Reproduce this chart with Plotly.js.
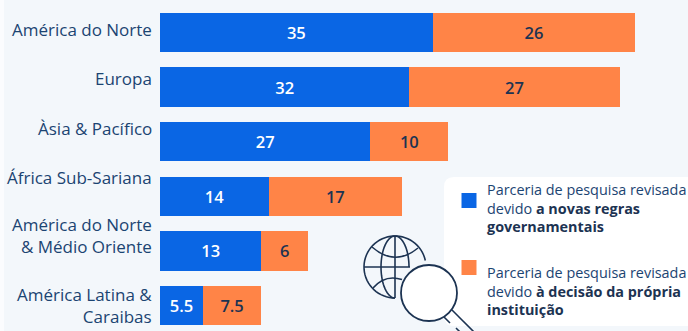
<!DOCTYPE html>
<html>
<head>
<meta charset="utf-8">
<script src="https://cdn.plot.ly/plotly-3.0.1.min.js"></script>
<style>html,body{margin:0;padding:0;background:#f3f7fb}#chart{width:688px;height:331px}</style>
</head>
<body>
<div id="chart"></div>
<script>
// Research partnerships revised, by region and by reason
const regions = ["América do Norte", "Europa", "Àsia & Pacífico", "África Sub-Sariana", "América do Norte<br>& Médio Oriente", "América Latina &<br>Caraibas"];
const governmentRules = [35, 32, 27, 14, 13, 5.5];
const ownDecision = [26, 27, 10, 17, 6, 7.5];
const labelLift = [3, 9, 13, 19, 15, 0];

const W = 688, H = 331, LEFT = 160;
const BG = "#f3f7fb", BLUE = "#0a66e4", ORANGE = "#ff8447", NAVY = "#1b4472", INK = "#1c3352";
const FONT = "Open Sans";

// Page-pixel helpers for the decoration drawn on top of the chart
const px = x => (x - LEFT) / (W - LEFT);
const py = y => 1 - y / H;
const page = extra => Object.assign({xref: "paper", yref: "paper", layer: "above"}, extra);
const stroke = {color: INK, width: 1.6};

const panelPath = () => {
  const x0 = 444, x1 = 700, y0 = 177, y1 = 326, r = 10;
  return `M${px(x0 + r)},${py(y0)} L${px(x1)},${py(y0)} L${px(x1)},${py(y1)} L${px(x0 + r)},${py(y1)} ` +
    `Q${px(x0)},${py(y1)} ${px(x0)},${py(y1 - r)} L${px(x0)},${py(y0 + r)} Q${px(x0)},${py(y0)} ${px(x0 + r)},${py(y0)} Z`;
};
const circle = (cx, cy, r, line, fill) => page({
  type: "circle", x0: px(cx - r), x1: px(cx + r), y0: py(cy + r), y1: py(cy - r),
  line, fillcolor: fill
});
const seg = (x0, y0, x1, y1, w) => page({
  type: "line", x0: px(x0), x1: px(x1), y0: py(y0), y1: py(y1),
  line: {color: INK, width: w || 1.6}
});
const curve = (x0, y0, cx, cy, x1, y1) => page({
  type: "path", path: `M${px(x0)},${py(y0)} Q${px(cx)},${py(cy)} ${px(x1)},${py(y1)}`, line: stroke
});
// Elliptical arc as a polyline; angles in degrees, 0 = east, 90 = north
const arc = (cx, cy, rx, ry, from, to) => {
  const pts = [];
  const steps = 48;
  for (let k = 0; k <= steps; k++) {
    const a = (from + (to - from) * k / steps) * Math.PI / 180;
    pts.push(`${k ? "L" : "M"}${px(cx + rx * Math.cos(a))},${py(cy - ry * Math.sin(a))}`);
  }
  return page({type: "path", path: pts.join(" "), line: stroke});
};

const shapes = [
  page({type: "rect", x0: px(0), x1: px(4), y0: 0, y1: 1, fillcolor: "#fbfcfe", line: {width: 0}, layer: "below"}),
  page({type: "path", path: panelPath(), fillcolor: "#ffffff", line: {width: 0}, layer: "below"}),
  page({type: "rect", x0: px(461.5), x1: px(476.5), y0: py(208), y1: py(193), fillcolor: BLUE, line: {width: 0}}),
  page({type: "rect", x0: px(461.5), x1: px(476.5), y0: py(275), y1: py(260), fillcolor: ORANGE, line: {width: 0}}),
  // globe, left open where the magnifying glass overlaps it
  arc(395, 267, 31, 31, 12, 270),
  arc(395, 267, 14, 31, 0, 270),
  seg(395, 236, 395, 298),
  seg(364, 267, 410, 267),
  curve(372, 247, 395, 267, 418, 248),
  curve(373, 288, 385, 274, 402, 279.5),
  // magnifying glass
  circle(429, 293, 28, {color: INK, width: 1.8}, "#ffffff"),
  seg(452, 310, 475, 333),
  seg(444, 317, 450, 323),
  seg(456, 328, 461, 333)
];

const annotations = regions.map((name, i) => ({
  xref: "paper", yref: "y", x: px(154), y: i, yshift: labelLift[i],
  text: name, showarrow: false, xanchor: "right", yanchor: "middle", align: "right",
  font: {family: FONT, size: 17, color: NAVY}
}));
const legendNote = (y, text) => ({
  xref: "paper", yref: "paper", x: px(485), y: py(y), xanchor: "left", yanchor: "top", align: "left",
  text, showarrow: false, font: {family: FONT, size: 14.4, color: NAVY}
});
annotations.push(legendNote(178, `Parceria de pesquisa revisada<br>devido <b style="color:${INK}">a novas regras</b><br><b style="color:${INK}">governamentais</b>`));
annotations.push(legendNote(261, `Parceria de pesquisa revisada<br>devido <b style="color:${INK}">à decisão da própria</b><br><b style="color:${INK}">instituição</b>`));

const bars = (name, values, color, textColor) => ({
  type: "bar", orientation: "h", name,
  x: values, y: regions.map((_, i) => i),
  text: values.map(String), textposition: "inside", insidetextanchor: "middle",
  constraintext: "none", cliponaxis: false,
  textfont: {family: FONT, size: 16.5, color: textColor, weight: 600},
  marker: {color, line: {width: 0}}, hoverinfo: "x+name"
});

Plotly.newPlot("chart", [
  bars("a novas regras governamentais", governmentRules, BLUE, "#ffffff"),
  bars("à decisão da própria instituição", ownDecision, ORANGE, INK)
], {
  width: W, height: H, barmode: "stack", bargap: 0.275, showlegend: false,
  margin: {l: LEFT, r: 0, t: 0, b: 0, pad: 0},
  paper_bgcolor: BG, plot_bgcolor: "rgba(0,0,0,0)",
  xaxis: {range: [0, 67.76], visible: false, fixedrange: true},
  yaxis: {range: [5.467, -0.595], visible: false, fixedrange: true},
  shapes, annotations
}, {displayModeBar: false, staticPlot: true});
</script>
</body>
</html>
